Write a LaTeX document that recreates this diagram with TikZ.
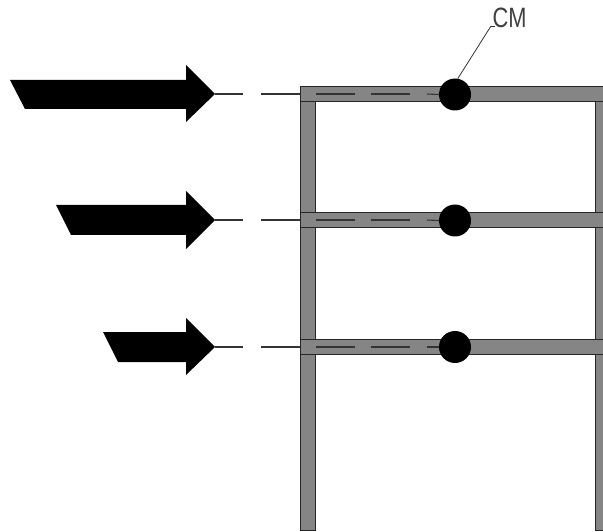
\documentclass[tikz,border=0pt]{standalone}
\usepackage{fontspec}
\setmainfont{Liberation Sans}
\tikzset{
  member/.style={draw=black!85, line width=1pt, fill=black!48},
  load/.style={fill=black, draw=none},
  mass/.style={circle, fill=black, draw=none, minimum size=32pt, inner sep=0pt},
  axis/.style={line width=1.1pt, black!80},
}
\begin{document}
\begin{tikzpicture}[x=1pt, y=-1pt]
  \useasboundingbox (0,0) rectangle (603,532);

  % Frame
  \draw[member] (300,86.5) rectangle (315,530);
  \draw[member] (595.5,86.5) rectangle (610,530);
  \foreach \level in {94,220,347} {
    \draw[member] (300,\level-7.5) rectangle (610,\level+7.5);
  }

  % Masses
  \node[mass] (m1) at (455,94.5) {};
  \node[mass] (m2) at (455,220.5) {};
  \node[mass] (m3) at (455,347) {};

  % Loads
  \fill[load] (10,80) -- (186,80) -- (186,65) -- (215,94) -- (186,122) -- (186,109) -- (25,109) -- cycle;
  \fill[load] (56,205) -- (186,205) -- (186,191) -- (215,220) -- (186,249) -- (186,235) -- (71,235) -- cycle;
  \fill[load] (103,332) -- (186,332) -- (186,318) -- (215,347) -- (186,375) -- (186,362) -- (118,362) -- cycle;

  % Axis lines
  \foreach \level/\mass in {94/m1,220/m2,347/m3} {
    \coordinate (a) at (215,\level);
    \coordinate (b) at (243,\level);
    \coordinate (c) at (261,\level);
    \coordinate (d) at (300,\level);
    \draw[axis] (a) -- (b);
    \draw[axis] (c) -- (d);
    \draw[axis] (316,\level) -- (355,\level);
    \draw[axis] (371,\level) -- (410,\level);
    \draw[axis] (427,\level) -- (\mass.west);
  }

  % Label
  \node[font=\fontsize{28}{28}\selectfont, black!75, inner sep=0pt] (cm) at (509.5,17.5) {\scalebox{.78}[1]{CM}};
  \coordinate (lead) at (491,26);
  \draw[line width=0.8pt, black!80] (lead) -- (m1.80);
  \draw[line width=0.8pt, black!80] (lead) -- (495,26);
\end{tikzpicture}
\end{document}
